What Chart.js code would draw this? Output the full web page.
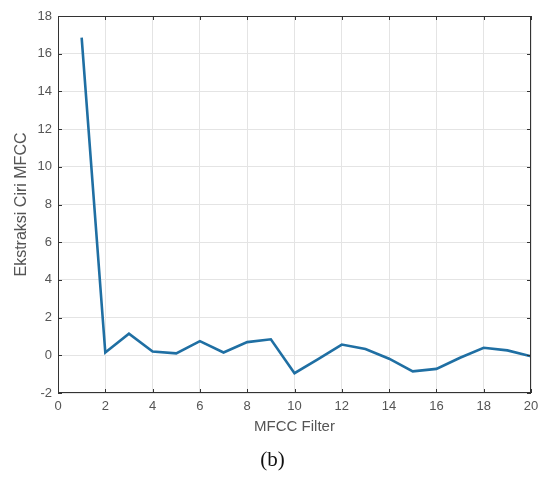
<!DOCTYPE html>
<html>
<head>
<meta charset="utf-8">
<script src="https://cdn.jsdelivr.net/npm/chart.js@4"></script>
<style>
  html, body { margin: 0; padding: 0; background: #fff; }
  #wrap { position: relative; width: 545px; height: 477px; }
  #caption { position: absolute; left: 0; width: 545px; top: 447px; text-align: center;
    font-family: 'Liberation Serif', 'DejaVu Serif', serif; font-size: 21px; color: #111; }
</style>
</head>
<body>
<div id="wrap">
  <canvas id="mfccChart" width="545" height="477"></canvas>
  <div id="caption">(b)</div>
</div>
<script>
'use strict';

// Data
const filterIdx = [1, 2, 3, 4, 5, 6, 7, 8, 9, 10, 11, 12, 13, 14, 15, 16, 17, 18, 19, 20];
const mfccVals = [16.85, 0.15, 1.15, 0.2, 0.1, 0.75, 0.15, 0.7, 0.85, -0.95, -0.2, 0.57, 0.33, -0.18, -0.85, -0.72, -0.13, 0.4, 0.26, -0.05];
const xTicks = [0, 2, 4, 6, 8, 10, 12, 14, 16, 18, 20];
const yTicks = [-2, 0, 2, 4, 6, 8, 10, 12, 14, 16, 18];

// Colours
const lineColor = '#1f6fa3',
  gridColor = '#e4e4e4',
  axisColor = '#333333',
  labelColor = '#555555';

// MATLAB-like box with inward ticks
const boxPlugin = {
  id: 'boxPlugin',
  afterDatasetsDraw(chart) {
    const { ctx, chartArea: a, scales } = chart;
    ctx.save();
    ctx.strokeStyle = axisColor;
    ctx.lineWidth = 1;
    ctx.strokeRect(a.left + 0.5, a.top + 0.5, a.right - a.left - 1, a.bottom - a.top - 1);
    const len = 4;
    ctx.beginPath();
    xTicks.forEach(function (t) {
      const px = Math.round(scales.x.getPixelForValue(t)) + 0.5;
      ctx.moveTo(px, a.bottom); ctx.lineTo(px, a.bottom - len);
      ctx.moveTo(px, a.top); ctx.lineTo(px, a.top + len);
    });
    yTicks.forEach(function (t) {
      const py = Math.round(scales.y.getPixelForValue(t)) + 0.5;
      ctx.moveTo(a.left, py); ctx.lineTo(a.left + len, py);
      ctx.moveTo(a.right, py); ctx.lineTo(a.right - len, py);
    });
    ctx.stroke();
    ctx.restore();
  }
};

const tickFont = { family: "'Liberation Sans', Arial, sans-serif", size: 13 };

new Chart(document.getElementById('mfccChart'), {
  type: 'line',
  data: {
    datasets: [
      {
        data: filterIdx.map(function (v, i) { return { x: v, y: mfccVals[i] }; }),
        borderColor: lineColor,
        borderWidth: 2.6,
        pointRadius: 0,
        tension: 0,
        fill: false
      }
    ]
  },
  options: {
    responsive: false,
    animation: false,
    layout: { padding: { top: 16, right: 14, bottom: 41, left: 0 } },
    plugins: {
      legend: { display: false },
      tooltip: { enabled: false }
    },
    scales: {
      x: {
        type: 'linear',
        min: 0,
        max: 20,
        afterBuildTicks: function (s) { s.ticks = xTicks.map(function (v) { return { value: v }; }); },
        afterFit: function (s) { s.height = 43; },
        grid: { color: gridColor, drawTicks: false },
        border: { display: false },
        ticks: { color: labelColor, font: tickFont, padding: 6, maxRotation: 0 },
        title: { display: true, text: 'MFCC Filter', color: labelColor, font: { family: tickFont.family, size: 15 }, padding: 0 }
      },
      y: {
        min: -2,
        max: 18,
        afterBuildTicks: function (s) { s.ticks = yTicks.map(function (v) { return { value: v }; }); },
        afterFit: function (s) { s.width = 58; },
        grid: { color: gridColor, drawTicks: false },
        border: { display: false },
        ticks: { color: labelColor, font: tickFont, padding: 6 },
        title: { display: true, text: 'Ekstraksi Ciri MFCC', color: labelColor, font: { family: tickFont.family, size: 16 }, padding: 12 }
      }
    }
  },
  plugins: [boxPlugin]
});
</script>
</body>
</html>
